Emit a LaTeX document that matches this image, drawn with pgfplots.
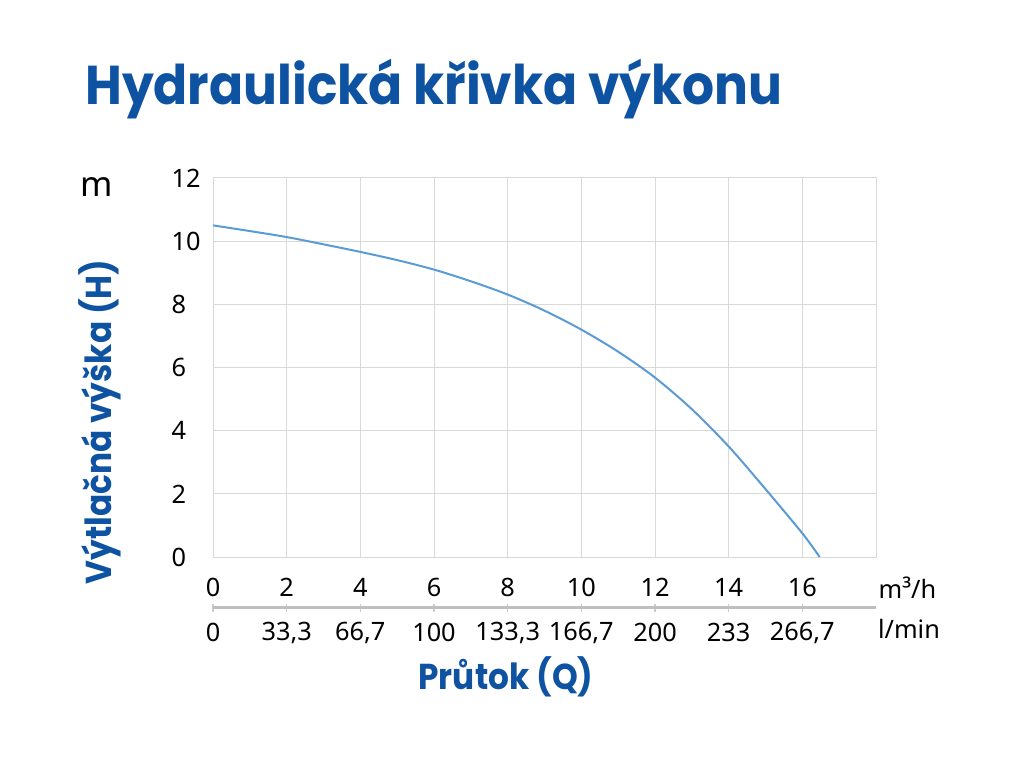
\documentclass[border=0pt]{standalone}
\usepackage{fontspec}
\setmainfont{Noto Sans}
\newfontfamily\titlefont[FakeStretch=0.92]{Poppins}
\newfontfamily\labelfont[FakeStretch=0.91]{Poppins}
\usepackage{pgfplots}
\pgfplotsset{compat=1.18}
\definecolor{titleblue}{RGB}{14,82,162}
\definecolor{curveblue}{RGB}{91,155,213}
\definecolor{gridgray}{RGB}{217,217,217}
\definecolor{axgray}{RGB}{191,191,191}
\begin{document}
\begin{tikzpicture}[x=0.75pt,y=0.75pt]
\path[use as bounding box] (0,0) rectangle (1024,768);
\node[anchor=base west, text=titleblue, font=\titlefont\bfseries\fontsize{41}{45}\selectfont, inner sep=0pt] at (85,663) {Hydraulická křivka výkonu};
\node[rotate=90, text=titleblue, font=\labelfont\bfseries\fontsize{27}{30}\selectfont, inner sep=0pt] at (100,346) {Výtlačná výška (H)};
\node[anchor=base, text=titleblue, font=\labelfont\bfseries\fontsize{27}{30}\selectfont, inner sep=0pt] at (506,79) {Průtok (Q)};
\node[anchor=base, font=\fontsize{26}{30}\selectfont, inner sep=0pt] at (97,571) {m};
\node[font=\fontsize{19}{22}\selectfont, inner sep=0pt] at (907.5,180.4) {m³/h};
\node[font=\fontsize{19}{22}\selectfont, inner sep=0pt] at (909,139.5) {l/min};

\begin{axis}[at={(159.75pt,158.25pt)}, anchor=south west, scale only axis,
  width=497.25pt, height=284.25pt,
  xmin=0, xmax=18, ymin=0, ymax=12,
  xtick={0,2,...,18}, ytick={0,2,...,12},
  xticklabels={0,2,4,6,8,10,12,14,16,},
  grid=major, grid style={gridgray, line width=0.75pt},
  axis line style={gridgray, line width=0.75pt},
  major tick length=0pt,
  /pgf/number format/assume math mode=true,
  ticklabel style={font=\fontsize{19}{22}\selectfont},
  xticklabel style={anchor=center, yshift=-23pt},
  yticklabel style={anchor=west, xshift=-34.5pt},
  clip=false]
\addplot[curveblue, line width=1.5pt, smooth, tension=0.5] coordinates {
(0,10.5) (1,10.32) (2,10.13) (3,9.9) (4,9.66) (5,9.4) (6,9.1) (7,8.73)
(8,8.31) (9,7.8) (10,7.2) (11,6.5) (12,5.68) (13,4.68) (14,3.5) (15,2.15)
(16,0.75) (16.47,0)};
\end{axis}

\begin{axis}[at={(159.75pt,120.2pt)}, anchor=south west, scale only axis,
  width=497.25pt, height=1pt,
  xmin=0, xmax=18, ymin=0, ymax=1,
  hide y axis, axis x line=bottom,
  x axis line style={-, axgray, line width=2.25pt},
  xtick={0,2,...,16},
  xticklabels={0,{33,3},{66,7},100,{133,3},{166,7},200,233,{266,7}},
  major tick length=6pt, tick align=center,
  tick style={axgray!80, line width=1pt},
  /pgf/number format/assume math mode=true,
  ticklabel style={font=\fontsize{19}{22}\selectfont},
  xticklabel style={anchor=center, yshift=-15.75pt},
  clip=false]
\end{axis}
\end{tikzpicture}
\end{document}
